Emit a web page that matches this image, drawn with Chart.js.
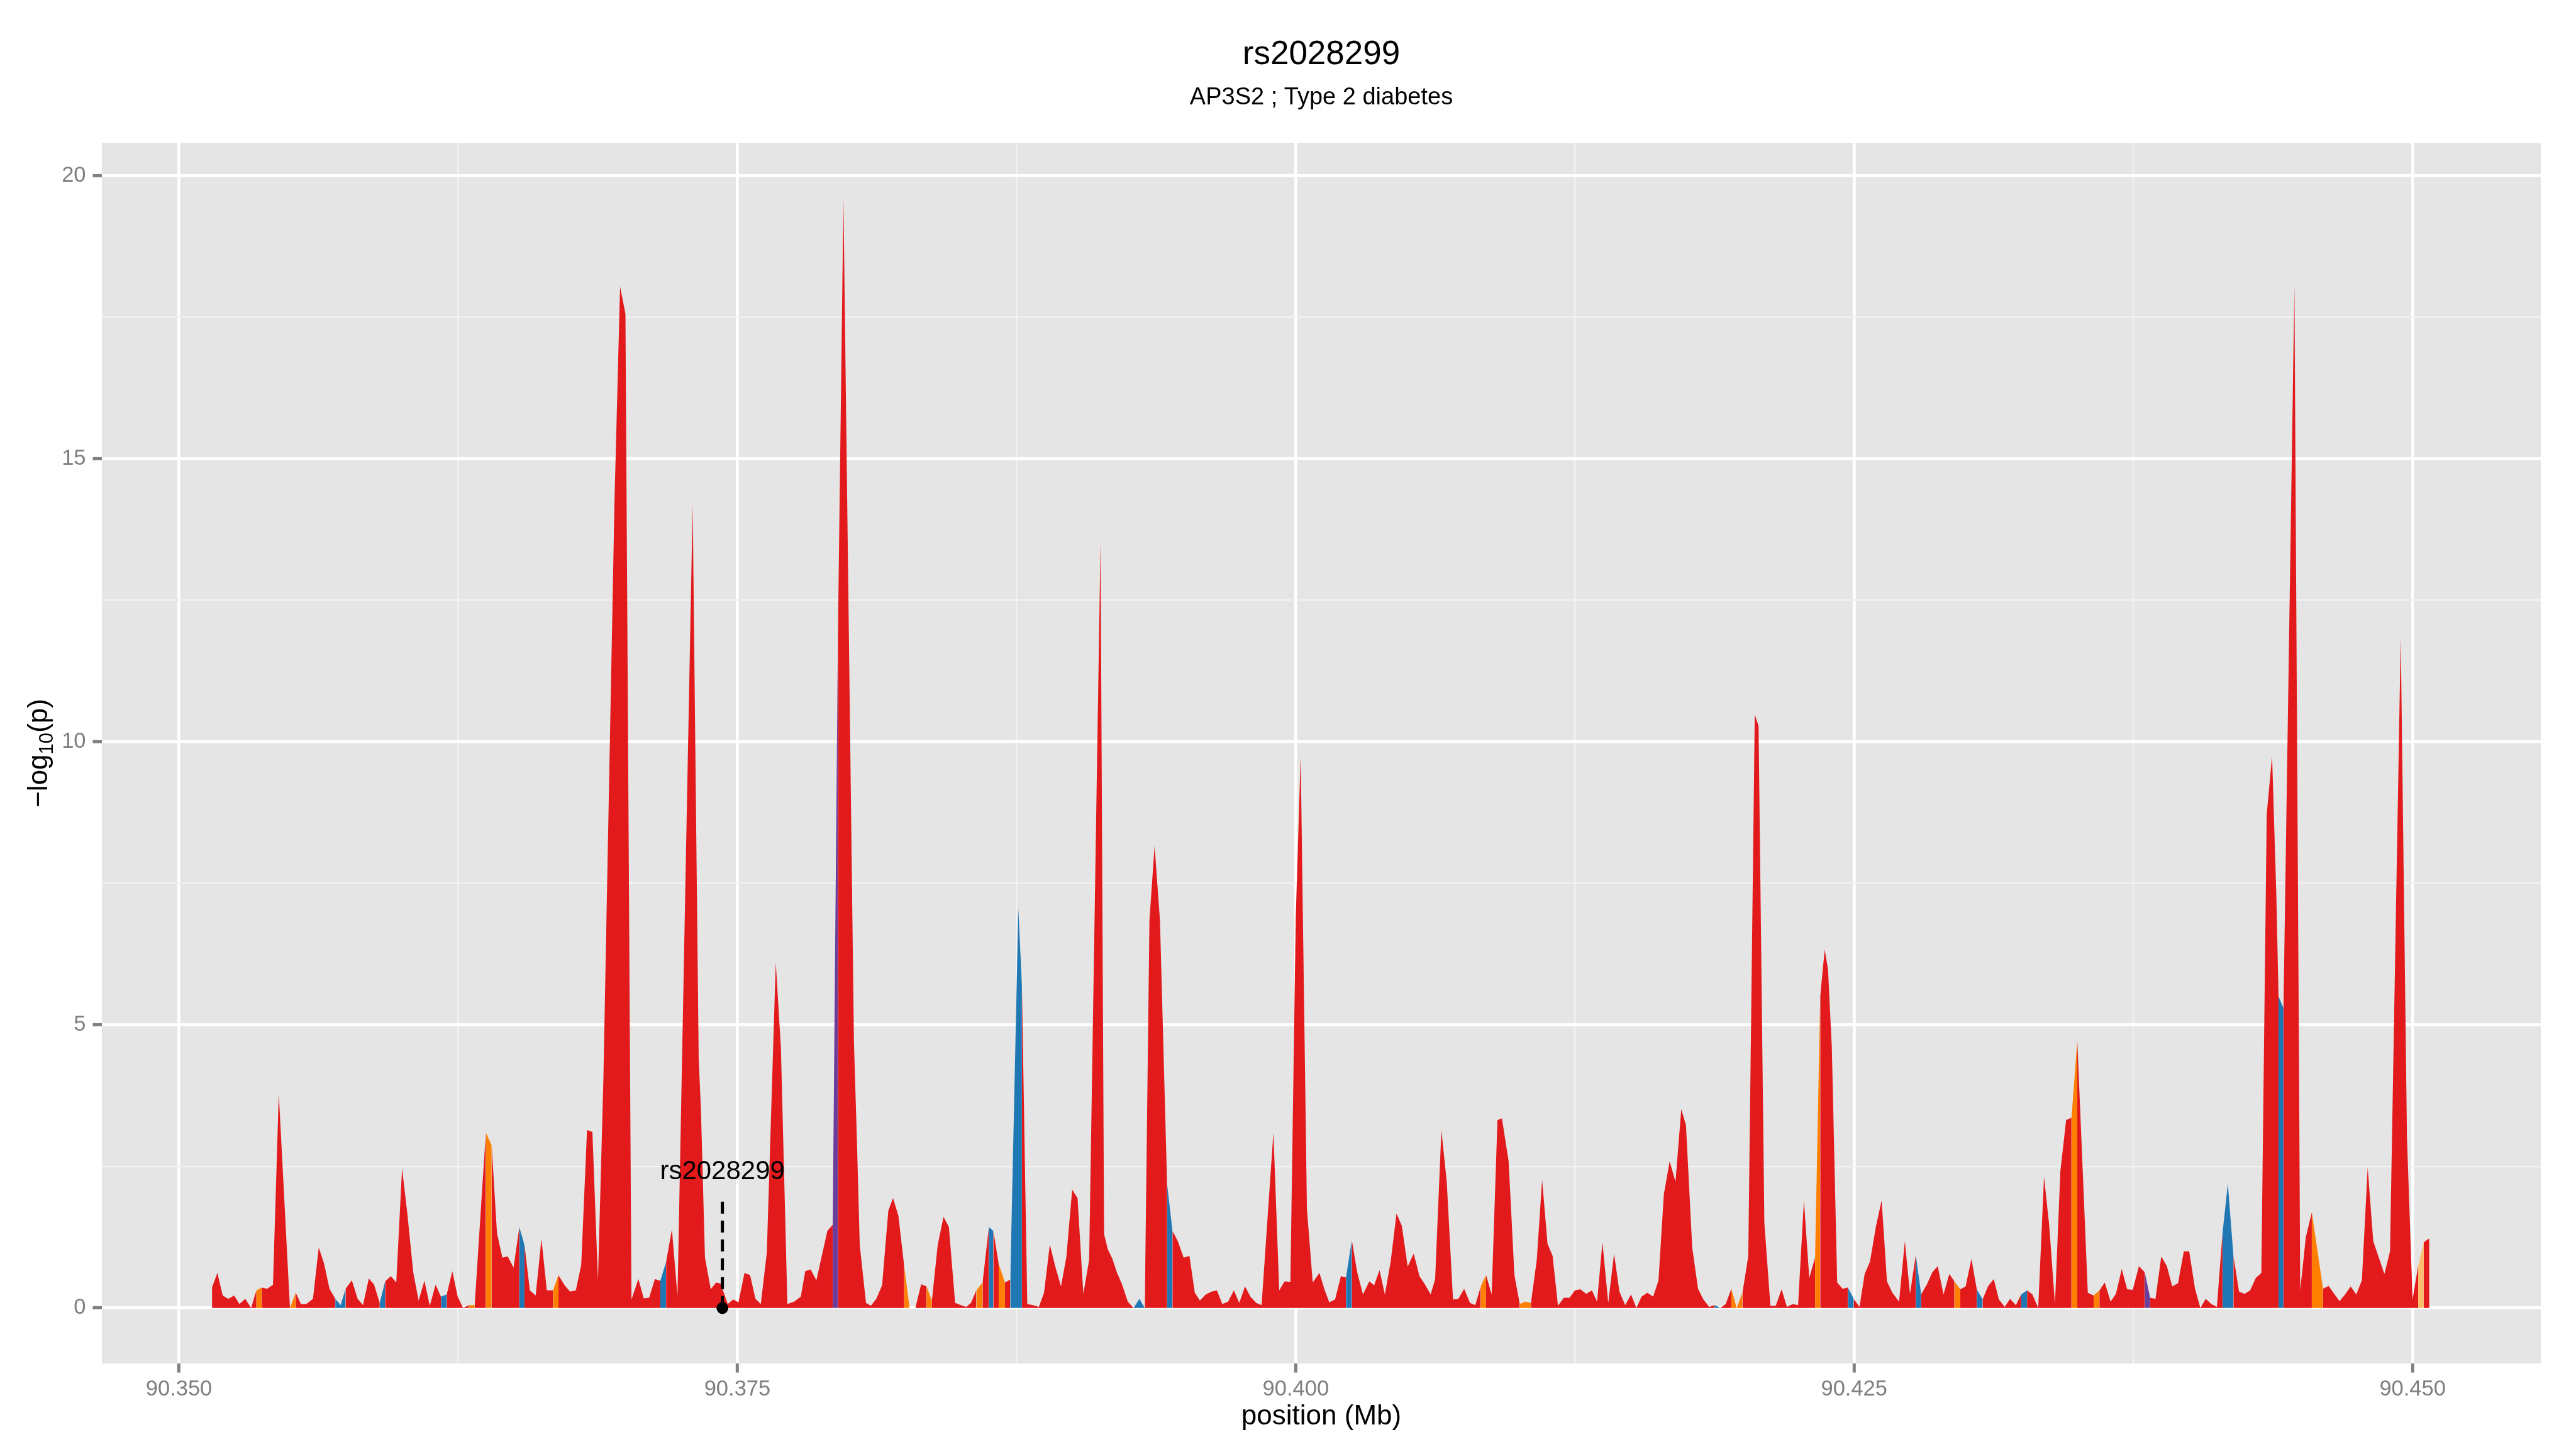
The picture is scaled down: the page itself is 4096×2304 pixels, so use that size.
<!DOCTYPE html>
<html lang="en">
<head>
<meta charset="UTF-8">
<title>rs2028299 - AP3S2 ; Type 2 diabetes</title>
<script src="https://cdn.jsdelivr.net/npm/chart.js"></script>
<style>
  html, body { margin: 0; padding: 0; background: #ffffff; }
  #wrap { width: 4096px; height: 2304px; }
</style>
</head>
<body>
<div id="wrap"><canvas id="myChart" width="4096" height="2304"></canvas></div>
<script>
// --- data ---
const plotTitle = 'rs2028299';
const plotSubtitle = 'AP3S2 ; Type 2 diabetes';
const xTitle = 'position (Mb)';
const yTitleParts = ['\u2212log', '10', '(p)'];

// SNP positions (Mb)
const positionMb = [
  90.35148, 90.35172, 90.35196, 90.35221, 90.35247, 90.35271, 90.35297, 90.35323, 90.35347, 90.35371,
  90.35395, 90.35421, 90.35447, 90.35497, 90.35523, 90.35546, 90.35570, 90.35600, 90.35626, 90.35650,
  90.35674, 90.35700, 90.35724, 90.35746, 90.35774, 90.35800, 90.35824, 90.35850, 90.35873, 90.35899,
  90.35923, 90.35949, 90.35973, 90.35999, 90.36023, 90.36049, 90.36073, 90.36099, 90.36123, 90.36149,
  90.36173, 90.36199, 90.36224, 90.36248, 90.36272, 90.36298, 90.36324, 90.36374, 90.36400, 90.36424,
  90.36448, 90.36472, 90.36498, 90.36524, 90.36547, 90.36571, 90.36597, 90.36623, 90.36647, 90.36675,
  90.36699, 90.36727, 90.36751, 90.36777, 90.36801, 90.36827, 90.36851, 90.36876, 90.36900, 90.36950,
  90.36975, 90.36999, 90.37026, 90.37057, 90.37081, 90.37105, 90.37131, 90.37155, 90.37181, 90.37207,
  90.37232, 90.37300, 90.37327, 90.37337, 90.37355, 90.37381, 90.37405, 90.37425, 90.37457, 90.37481,
  90.37505, 90.37532, 90.37557, 90.37581, 90.37605, 90.37632, 90.37672, 90.37695, 90.37724, 90.37754,
  90.37784, 90.37804, 90.37828, 90.37854, 90.37873, 90.37903, 90.37927, 90.37950, 90.37975, 90.38022,
  90.38035, 90.38048, 90.38076, 90.38098, 90.38122, 90.38148, 90.38176, 90.38197, 90.38221, 90.38247,
  90.38271, 90.38297, 90.38323, 90.38347, 90.38371, 90.38397, 90.38423, 90.38447, 90.38475, 90.38501,
  90.38525, 90.38546, 90.38570, 90.38598, 90.38626, 90.38646, 90.38670, 90.38698, 90.38722, 90.38758,
  90.38774, 90.38798, 90.38824, 90.38850, 90.38873, 90.38899, 90.38923, 90.38949, 90.38973, 90.38999,
  90.39023, 90.39049, 90.39075, 90.39126, 90.39142, 90.39159, 90.39179, 90.39199, 90.39222, 90.39248,
  90.39274, 90.39300, 90.39324, 90.39345, 90.39368, 90.39392, 90.39424, 90.39448, 90.39472, 90.39498,
  90.39524, 90.39548, 90.39571, 90.39597, 90.39623, 90.39647, 90.39671, 90.39697, 90.39723, 90.39747,
  90.39773, 90.39797, 90.39823, 90.39847, 90.39900, 90.39926, 90.39950, 90.39976, 90.40000, 90.40022,
  90.40050, 90.40076, 90.40106, 90.40130, 90.40150, 90.40176, 90.40202, 90.40225, 90.40251, 90.40275,
  90.40301, 90.40329, 90.40351, 90.40375, 90.40399, 90.40425, 90.40451, 90.40475, 90.40501, 90.40528,
  90.40554, 90.40578, 90.40604, 90.40624, 90.40652, 90.40676, 90.40704, 90.40728, 90.40754, 90.40780,
  90.40804, 90.40828, 90.40852, 90.40877, 90.40903, 90.40923, 90.40953, 90.40979, 90.41003, 90.41027,
  90.41053, 90.41079, 90.41103, 90.41127, 90.41150, 90.41174, 90.41200, 90.41226, 90.41250, 90.41274,
  90.41300, 90.41326, 90.41349, 90.41373, 90.41399, 90.41425, 90.41449, 90.41475, 90.41501, 90.41525,
  90.41548, 90.41574, 90.41600, 90.41624, 90.41648, 90.41674, 90.41700, 90.41726, 90.41747, 90.41775,
  90.41801, 90.41825, 90.41851, 90.41875, 90.41901, 90.41925, 90.41950, 90.41974, 90.42000, 90.42026,
  90.42055, 90.42072, 90.42098, 90.42125, 90.42149, 90.42175, 90.42199, 90.42225, 90.42249, 90.42275,
  90.42299, 90.42325, 90.42348, 90.42368, 90.42383, 90.42400, 90.42424, 90.42448, 90.42472, 90.42498,
  90.42524, 90.42547, 90.42571, 90.42597, 90.42623, 90.42647, 90.42671, 90.42701, 90.42727, 90.42750,
  90.42776, 90.42800, 90.42826, 90.42850, 90.42874, 90.42900, 90.42926, 90.42949, 90.42975, 90.42999,
  90.43025, 90.43049, 90.43075, 90.43099, 90.43125, 90.43148, 90.43174, 90.43198, 90.43224, 90.43248,
  90.43274, 90.43298, 90.43324, 90.43350, 90.43373, 90.43399, 90.43423, 90.43449, 90.43473, 90.43499,
  90.43546, 90.43572, 90.43598, 90.43622, 90.43648, 90.43672, 90.43698, 90.43722, 90.43747, 90.43775,
  90.43801, 90.43825, 90.43849, 90.43875, 90.43900, 90.43924, 90.43950, 90.43976, 90.44000, 90.44026,
  90.44050, 90.44074, 90.44099, 90.44124, 90.44149, 90.44173, 90.44198, 90.44223, 90.44248, 90.44273,
  90.44298, 90.44323, 90.44347, 90.44371, 90.44390, 90.44400, 90.44422, 90.44471, 90.44492, 90.44497,
  90.44522, 90.44549, 90.44599, 90.44624, 90.44649, 90.44673, 90.44698, 90.44723, 90.44748, 90.44773,
  90.44799, 90.44824, 90.44849, 90.44874, 90.44899, 90.44947, 90.44975, 90.45000, 90.45025, 90.45050,
  90.45075
];

// -log10(p) at each position
const logP = [
  0.36, 0.62, 0.22, 0.16, 0.22, 0.07, 0.16, 0.00, 0.31, 0.36,
  0.34, 0.41, 3.79, 0.00, 0.27, 0.07, 0.07, 0.16, 1.07, 0.78,
  0.34, 0.16, 0.05, 0.34, 0.49, 0.16, 0.05, 0.52, 0.42, 0.09,
  0.47, 0.56, 0.45, 2.47, 1.65, 0.63, 0.13, 0.48, 0.04, 0.41,
  0.20, 0.24, 0.65, 0.20, 0.00, 0.05, 0.05, 3.10, 2.87, 1.32,
  0.89, 0.91, 0.71, 1.43, 1.11, 0.31, 0.22, 1.22, 0.31, 0.31,
  0.58, 0.40, 0.29, 0.31, 0.76, 3.14, 3.11, 0.49, 4.00, 14.25,
  18.04, 17.56, 0.15, 0.51, 0.17, 0.18, 0.51, 0.48, 0.81, 1.39,
  0.21, 14.19, 4.40, 3.50, 0.89, 0.33, 0.45, 0.43, 0.07, 0.15,
  0.10, 0.62, 0.58, 0.16, 0.07, 0.98, 6.10, 4.60, 0.07, 0.11,
  0.20, 0.65, 0.68, 0.49, 0.83, 1.36, 1.47, 11.80, 19.58, 4.70,
  3.00, 1.11, 0.09, 0.04, 0.16, 0.40, 1.72, 1.94, 1.63, 0.74,
  0.00, 0.00, 0.42, 0.38, 0.13, 1.11, 1.61, 1.43, 0.09, 0.05,
  0.02, 0.09, 0.31, 0.45, 1.43, 1.36, 0.78, 0.45, 0.50, 7.05,
  5.69, 0.07, 0.05, 0.02, 0.27, 1.12, 0.74, 0.38, 0.90, 2.09,
  1.94, 0.25, 0.85, 13.52, 1.30, 1.03, 0.87, 0.63, 0.42, 0.11,
  0.00, 0.16, 0.00, 6.85, 8.16, 6.85, 2.19, 1.36, 1.18, 0.89,
  0.92, 0.27, 0.13, 0.24, 0.29, 0.31, 0.07, 0.11, 0.31, 0.09,
  0.38, 0.20, 0.09, 0.05, 3.10, 0.31, 0.47, 0.46, 6.90, 9.75,
  1.75, 0.45, 0.62, 0.31, 0.10, 0.15, 0.56, 0.54, 1.20, 0.63,
  0.24, 0.47, 0.40, 0.67, 0.24, 0.82, 1.67, 1.45, 0.73, 0.96,
  0.56, 0.42, 0.24, 0.51, 3.14, 2.23, 0.15, 0.16, 0.34, 0.09,
  0.05, 0.38, 0.58, 0.24, 3.32, 3.35, 2.59, 0.58, 0.07, 0.11,
  0.09, 0.85, 2.27, 1.14, 0.92, 0.04, 0.18, 0.18, 0.31, 0.33,
  0.25, 0.31, 0.11, 1.16, 0.09, 0.96, 0.29, 0.05, 0.24, 0.00,
  0.20, 0.27, 0.20, 0.49, 2.01, 2.59, 2.23, 3.51, 3.23, 1.07,
  0.34, 0.15, 0.02, 0.05, 0.00, 0.07, 0.34, 0.00, 0.27, 0.92,
  10.48, 10.28, 1.50, 0.04, 0.04, 0.33, 0.02, 0.07, 0.05, 1.90,
  0.53, 0.89, 5.50, 6.33, 5.98, 4.60, 0.45, 0.34, 0.36, 0.16,
  0.02, 0.60, 0.82, 1.43, 1.90, 0.47, 0.27, 0.11, 1.18, 0.25,
  0.94, 0.24, 0.42, 0.63, 0.74, 0.24, 0.60, 0.47, 0.33, 0.38,
  0.87, 0.33, 0.15, 0.38, 0.51, 0.15, 0.02, 0.16, 0.05, 0.24,
  0.31, 0.24, 0.00, 2.32, 1.47, 0.07, 2.41, 3.32, 3.36, 4.72,
  0.27, 0.22, 0.31, 0.45, 0.11, 0.25, 0.69, 0.33, 0.32, 0.74,
  0.63, 0.18, 0.16, 0.91, 0.74, 0.38, 0.44, 1.00, 1.00, 0.34,
  0.00, 0.16, 0.07, 0.02, 1.32, 2.19, 0.92, 0.29, 0.25, 0.31,
  0.53, 0.62, 8.72, 9.75, 7.30, 5.50, 5.30, 18.05, 4.00, 0.31,
  1.25, 1.69, 0.34, 0.39, 0.25, 0.12, 0.24, 0.38, 0.24, 0.49,
  2.48, 1.18, 0.89, 0.60, 1.00, 11.86, 3.00, 0.15, 0.74, 1.16,
  1.23
];

// positions where a differently coloured (LD group) stretch starts
const blueFrom = [90.35700, 90.35724, 90.35899, 90.36173, 90.36524, 90.37155, 90.38626, 90.38722,
  90.38758, 90.39274, 90.39300, 90.39424, 90.40225, 90.41875, 90.42472, 90.42776, 90.43049,
  90.43248, 90.44149, 90.44173, 90.44400];
const orangeFrom = [90.35347, 90.35497, 90.36298, 90.36374, 90.36675, 90.38247, 90.38347, 90.38570,
  90.38670, 90.40828, 90.41003, 90.41027, 90.41950, 90.41974, 90.42325, 90.42949, 90.43473,
  90.43572, 90.44549];
const purpleFrom = [90.37927, 90.43801];
const paleOrangeFrom = [90.45025];

const leadSnp = 'rs2028299';
const leadSnpMb = 90.37433;
const leadLineTop = 1.95;
const leadLabelY = 2.28;

const xGridMb = [90.3500, 90.3625, 90.3750, 90.3875, 90.4000, 90.4125, 90.4250, 90.4375, 90.4500];
const yGrid = [0, 2.5, 5, 7.5, 10, 12.5, 15, 17.5, 20];

const colours = {
  red: '#E31A1C', blue: '#1F78B4', orange: '#FF7F00', purple: '#6A3D9A', pale: '#FDBF6F'
};

const fontFamily = '"Liberation Sans", Arial, Helvetica, sans-serif';

const near = (list, v) => list.some(p => Math.abs(p - v) < 1e-7);
const groupColour = positionMb.map(p => {
  if (near(blueFrom, p)) return colours.blue;
  if (near(orangeFrom, p)) return colours.orange;
  if (near(purpleFrom, p)) return colours.purple;
  if (near(paleOrangeFrom, p)) return colours.pale;
  return colours.red;
});

const points = positionMb.map((x, i) => ({ x: x, y: logP[i] }));

// panel background, titles, rotated y title with subscript, SNP label
const plotFurniture = {
  id: 'plotFurniture',
  beforeDraw(chart) {
    const { ctx, chartArea: a } = chart;
    ctx.save();
    ctx.fillStyle = '#E5E5E5';
    ctx.fillRect(a.left, a.top, a.right - a.left, a.bottom - a.top);
    ctx.restore();
  },
  afterDraw(chart) {
    const { ctx, chartArea: a, scales } = chart;
    const cx = (a.left + a.right) / 2;
    ctx.save();
    ctx.fillStyle = '#000000';
    ctx.textAlign = 'center';
    ctx.textBaseline = 'alphabetic';
    ctx.font = '53px ' + fontFamily;
    ctx.fillText(plotTitle, cx, 102);
    ctx.font = '38px ' + fontFamily;
    ctx.fillText(plotSubtitle, cx, 166);
    ctx.font = '44px ' + fontFamily;
    ctx.fillText(xTitle, cx, 2265);

    // y axis title: -log10(p) with subscript
    ctx.save();
    ctx.translate(75, (a.top + a.bottom) / 2);
    ctx.rotate(-Math.PI / 2);
    ctx.textAlign = 'left';
    const mainFont = '44px ' + fontFamily;
    const subFont = '31px ' + fontFamily;
    ctx.font = mainFont;
    const w1 = ctx.measureText(yTitleParts[0]).width;
    const w3 = ctx.measureText(yTitleParts[2]).width;
    ctx.font = subFont;
    const w2 = ctx.measureText(yTitleParts[1]).width;
    let sx = -(w1 + w2 + w3) / 2;
    ctx.font = mainFont;
    ctx.fillText(yTitleParts[0], sx, 0);
    sx += w1;
    ctx.font = subFont;
    ctx.fillText(yTitleParts[1], sx, 9);
    sx += w2;
    ctx.font = mainFont;
    ctx.fillText(yTitleParts[2], sx, 0);
    ctx.restore();

    // label of the lead SNP
    ctx.font = '42px ' + fontFamily;
    ctx.textAlign = 'center';
    ctx.fillText(leadSnp, scales.x.getPixelForValue(leadSnpMb), scales.y.getPixelForValue(leadLabelY));
    ctx.restore();
  }
};

const gridOpts = {
  color: c => (c.index % 2 === 0 ? '#FFFFFF' : '#F2F2F2'),
  lineWidth: c => (c.index % 2 === 0 ? 4.6 : 2.3),
  drawTicks: true,
  tickLength: 14.5,
  tickWidth: 5,
  tickColor: c => (c.index % 2 === 0 ? '#7F7F7F' : 'rgba(0,0,0,0)')
};

const ctx = document.getElementById('myChart').getContext('2d');
new Chart(ctx, {
  type: 'line',
  data: {
    datasets: [
      {
        // lead SNP marker: dashed drop line and dot
        data: [{ x: leadSnpMb, y: 0 }, { x: leadSnpMb, y: leadLineTop }],
        borderColor: '#000000',
        borderWidth: 5,
        borderDash: [19, 11],
        pointRadius: [9.4, 0],
        pointBackgroundColor: '#000000',
        pointBorderWidth: 0,
        fill: false,
        order: 0
      },
      {
        data: points,
        fill: 'origin',
        backgroundColor: colours.red,
        borderColor: 'rgba(0,0,0,0)',
        borderWidth: 0,
        pointRadius: 0,
        tension: 0,
        segment: {
          backgroundColor: c => groupColour[c.p0DataIndex],
          borderColor: 'rgba(0,0,0,0)'
        },
        order: 1
      }
    ]
  },
  options: {
    responsive: false,
    animation: false,
    events: [],
    devicePixelRatio: 1,
    layout: { padding: { top: 227, right: 56, left: 0, bottom: 0 } },
    plugins: {
      legend: { display: false },
      tooltip: { enabled: false },
      title: { display: false }
    },
    scales: {
      x: {
        type: 'linear',
        min: 90.34655,
        max: 90.45574,
        afterBuildTicks: s => { s.ticks = xGridMb.map(v => ({ value: v })); },
        afterFit: s => { s.height = 136; },
        border: { display: false },
        grid: gridOpts,
        ticks: {
          autoSkip: false,
          maxRotation: 0,
          padding: 6,
          color: '#7F7F7F',
          font: { family: fontFamily, size: 34.5 },
          callback: (v, i) => (i % 2 === 0 ? v.toFixed(3) : '')
        }
      },
      y: {
        type: 'linear',
        min: -0.98,
        max: 20.58,
        afterBuildTicks: s => { s.ticks = yGrid.map(v => ({ value: v })); },
        afterFit: s => { s.width = 162; },
        border: { display: false },
        grid: gridOpts,
        ticks: {
          autoSkip: false,
          padding: 11,
          color: '#7F7F7F',
          font: { family: fontFamily, size: 34.5 },
          callback: (v, i) => (i % 2 === 0 ? String(v) : '')
        }
      }
    }
  },
  plugins: [plotFurniture]
});
</script>
</body>
</html>
